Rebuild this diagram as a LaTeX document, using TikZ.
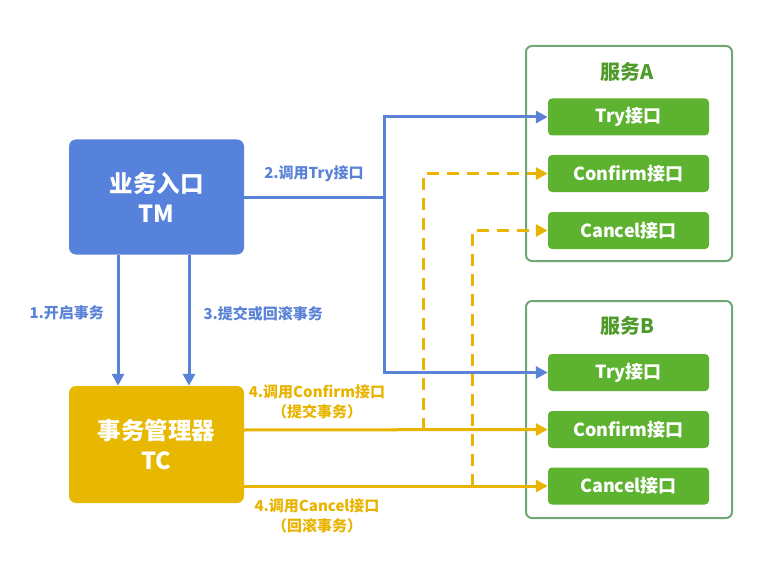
\documentclass[tikz,border=0pt]{standalone}
\usepackage{fontspec}
\setmainfont{Noto Sans CJK SC}
\usetikzlibrary{arrows.meta}
\definecolor{tmblue}{HTML}{5682DB}
\definecolor{lineblue}{HTML}{5A83D8}
\definecolor{tcyellow}{HTML}{E8B800}
\definecolor{lineyellow}{HTML}{E8B400}
\definecolor{ifgreen}{HTML}{5DB330}
\definecolor{svcborder}{HTML}{6FA872}
\definecolor{svctext}{HTML}{4E9A2A}
\tikzset{
  bigbox/.style={rounded corners=7pt, minimum width=175pt, minimum height=115pt, text=white, font=\fontsize{23.5}{30}\selectfont\bfseries, align=center, inner sep=0pt},
  svcbox/.style={draw=svcborder, line width=2pt, rounded corners=6pt, minimum width=206pt, minimum height=215pt, inner sep=0pt},
  ifbox/.style={fill=ifgreen, rounded corners=4pt, minimum width=161pt, minimum height=37pt, text=white, font=\fontsize{18}{20}\selectfont\bfseries, inner sep=0pt},
  svctitle/.style={text=svctext, font=\fontsize{20}{22}\selectfont\bfseries},
  bluelbl/.style={text=lineblue, font=\fontsize{15}{18}\selectfont\bfseries},
  yellbl/.style={text=lineyellow, font=\fontsize{15}{20}\selectfont\bfseries, align=center},
  bluearr/.style={draw=lineblue, line width=3pt, -{Triangle[length=12pt,width=12pt]}},
  yelarr/.style={draw=lineyellow, line width=3pt, -{Triangle[length=12pt,width=12pt]}},
  yeldash/.style={yelarr, dash pattern=on 12pt off 8pt},
}
\begin{document}
\begin{tikzpicture}[x=1pt,y=-1pt]
\useasboundingbox (0,0) rectangle (774,567);
% main boxes
\node[bigbox, fill=tmblue] (tm) at (156.5,197) {业务入口\\TM};
\node[bigbox, fill=tcyellow, minimum height=117pt] (tc) at (156.5,444.5) {事务管理器\\TC};
% service A
\node[svcbox] (sa) at (629,153.5) {};
\node[svctitle] (sat) at (627,72) {服务A};
\node[ifbox] (atry) at (628.5,117) {Try接口};
\node[ifbox] (aconf) at (628.5,173.5) {Confirm接口};
\node[ifbox] (acanc) at (628.5,230.5) {Cancel接口};
% service B
\node[svcbox, minimum height=217pt] (sb) at (629,409.5) {};
\node[svctitle] (sbt) at (627,326) {服务B};
\node[ifbox] (btry) at (628.5,372.5) {Try接口};
\node[ifbox] (bconf) at (628.5,429.5) {Confirm接口};
\node[ifbox] (bcanc) at (628.5,486) {Cancel接口};
% coordinates
\coordinate (tmR) at (244,197);
\coordinate (split) at (384,197);
\coordinate (tcR1) at (244,430);
\coordinate (tcR2) at (244,486);
\coordinate (d1) at (423,430);
\coordinate (d2) at (472,486);
% TM -> TC
\draw[bluearr] ([xshift=-38.5pt]tm.south) -- ([xshift=-38.5pt]tc.north);
\draw[bluearr] ([xshift=32.5pt]tm.south) -- ([xshift=32.5pt]tc.north);
\node[bluelbl, anchor=west] (l1) at (26,313) {1.开启事务};
\node[bluelbl, anchor=west] (l3) at (200,314) {3.提交或回滚事务};
% Try calls
\draw[lineblue, line width=3pt] (tmR) -- (split);
\draw[bluearr] (split) |- (atry.west);
\draw[bluearr] (split) |- (btry.west);
\node[bluelbl] (l2) at (314,174) {2.调用Try接口};
% confirm / cancel
\draw[yelarr] (tcR1) -- (bconf.west);
\draw[yelarr] (tcR2) -- (bcanc.west);
\draw[yeldash] (d1) |- (aconf.west);
\draw[yeldash] (d2) |- (acanc.west);
\node[yellbl] (l4a) at (317,402) {4.调用Confirm接口\\（提交事务）};
\node[yellbl] (l4b) at (317,516) {4.调用Cancel接口\\（回滚事务）};
\end{tikzpicture}
\end{document}
